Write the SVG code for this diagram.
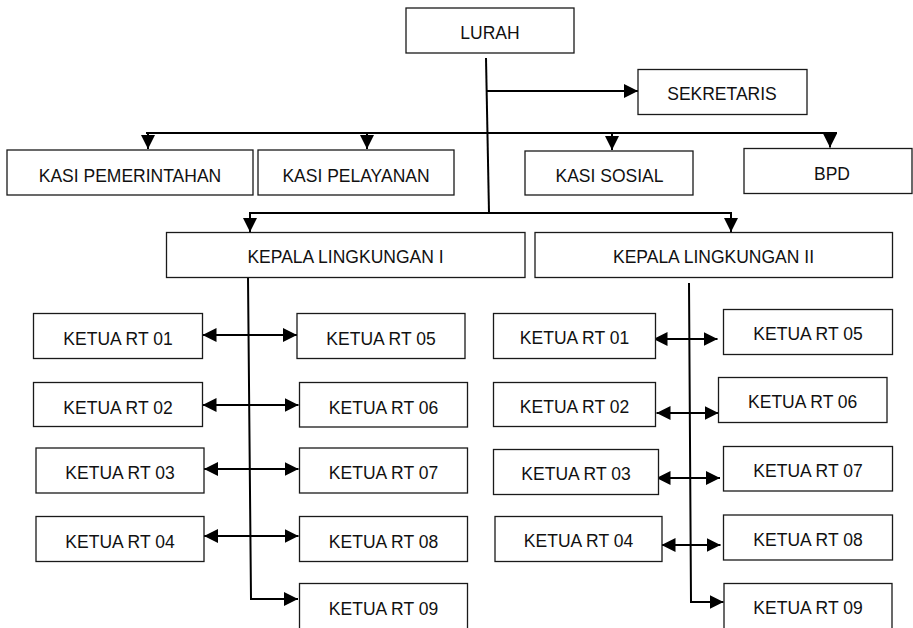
<svg xmlns="http://www.w3.org/2000/svg" width="913" height="628" viewBox="0 0 913 628">
<style>
.box{fill:#fff;stroke:#1a1a1a;stroke-width:1.3}
.lbl{font-family:"Liberation Sans",Arial,sans-serif;font-size:17.5px;fill:#111;text-anchor:middle}
.con{fill:none;stroke:#000;stroke-width:2}
</style>
<defs>
<marker id="ah" markerUnits="userSpaceOnUse" markerWidth="15" markerHeight="15" refX="14" refY="7" orient="auto-start-reverse" viewBox="0 0 15 15">
<path d="M0,0 L14,7 L0,14 Z" fill="#000"/>
</marker>
</defs>
<rect width="913" height="628" fill="#fff"/>

<g id="connectors">
<path class="con" d="M486,58 L489,213"/>
<path class="con" d="M487,91 L638,91" marker-end="url(#ah)"/>
<path class="con" d="M146,133 L837,133"/>
<path class="con" d="M148,133 L148,149" marker-end="url(#ah)"/>
<path class="con" d="M367,133 L367,149" marker-end="url(#ah)"/>
<path class="con" d="M612,133 L612,150" marker-end="url(#ah)"/>
<path class="con" d="M830,133 L830,147.5" marker-end="url(#ah)"/>
<path class="con" d="M250,232 L250,213 L731,213 L731,232" marker-start="url(#ah)" marker-end="url(#ah)"/>

<path class="con" d="M248,277 L251,599 L298,599" marker-end="url(#ah)"/>
<path class="con" d="M202.5,335 L297,335" marker-start="url(#ah)" marker-end="url(#ah)"/>
<path class="con" d="M202.5,405 L298.5,405" marker-start="url(#ah)" marker-end="url(#ah)"/>
<path class="con" d="M204,469 L298.5,469" marker-start="url(#ah)" marker-end="url(#ah)"/>
<path class="con" d="M204,536 L298.5,536" marker-start="url(#ah)" marker-end="url(#ah)"/>

<path class="con" d="M689,283 L691,602 L723.5,602" marker-end="url(#ah)"/>
<path class="con" d="M653.5,339 L717.5,339" marker-start="url(#ah)" marker-end="url(#ah)"/>
<path class="con" d="M656.5,413 L718.5,413" marker-start="url(#ah)" marker-end="url(#ah)"/>
<path class="con" d="M656.5,478 L720,478" marker-start="url(#ah)" marker-end="url(#ah)"/>
<path class="con" d="M661.5,545 L720.5,545" marker-start="url(#ah)" marker-end="url(#ah)"/>
</g>

<g id="lurah"><rect class="box" x="406" y="8" width="168" height="45"/><text class="lbl" x="490" y="38.5">LURAH</text></g>
<g id="sekretaris"><rect class="box" x="638" y="69.5" width="169" height="45"/><text class="lbl" x="722" y="100">SEKRETARIS</text></g>
<g id="kasi-pemerintahan"><rect class="box" x="7" y="150" width="246" height="45"/><text class="lbl" x="130" y="181.5">KASI PEMERINTAHAN</text></g>
<g id="kasi-pelayanan"><rect class="box" x="258" y="150" width="196" height="45"/><text class="lbl" x="356" y="181.5">KASI PELAYANAN</text></g>
<g id="kasi-sosial"><rect class="box" x="525" y="151" width="168" height="44"/><text class="lbl" x="609.5" y="181.5">KASI SOSIAL</text></g>
<g id="bpd"><rect class="box" x="744" y="148.5" width="168" height="45"/><text class="lbl" x="832" y="180">BPD</text></g>
<g id="kepala-1"><rect class="box" x="166.5" y="232.5" width="358.5" height="45"/><text class="lbl" x="345.5" y="262.5">KEPALA LINGKUNGAN I</text></g>
<g id="kepala-2"><rect class="box" x="535" y="232.5" width="357.5" height="45"/><text class="lbl" x="713.5" y="262.5">KEPALA LINGKUNGAN II</text></g>

<g id="l-rt01"><rect class="box" x="33.5" y="313.5" width="169" height="45"/><text class="lbl" x="118" y="345">KETUA RT 01</text></g>
<g id="l-rt02"><rect class="box" x="33.5" y="382.5" width="169" height="44"/><text class="lbl" x="118" y="413.5">KETUA RT 02</text></g>
<g id="l-rt03"><rect class="box" x="36" y="448" width="168" height="45"/><text class="lbl" x="120" y="479">KETUA RT 03</text></g>
<g id="l-rt04"><rect class="box" x="36" y="516.5" width="168" height="45"/><text class="lbl" x="120" y="547.5">KETUA RT 04</text></g>
<g id="l-rt05"><rect class="box" x="297" y="313.5" width="168" height="45"/><text class="lbl" x="381" y="345">KETUA RT 05</text></g>
<g id="l-rt06"><rect class="box" x="299.5" y="382.5" width="168" height="44.5"/><text class="lbl" x="383.5" y="413.5">KETUA RT 06</text></g>
<g id="l-rt07"><rect class="box" x="299.5" y="448" width="168" height="45"/><text class="lbl" x="383.5" y="479">KETUA RT 07</text></g>
<g id="l-rt08"><rect class="box" x="299.5" y="516.5" width="168" height="45"/><text class="lbl" x="383.5" y="547.5">KETUA RT 08</text></g>
<g id="l-rt09"><rect class="box" x="299.5" y="583.5" width="168" height="47"/><text class="lbl" x="383.5" y="615">KETUA RT 09</text></g>

<g id="r-rt01"><rect class="box" x="493.5" y="313.5" width="162" height="45"/><text class="lbl" x="574.5" y="343.5">KETUA RT 01</text></g>
<g id="r-rt02"><rect class="box" x="493.5" y="382.5" width="162" height="44"/><text class="lbl" x="574.5" y="412.5">KETUA RT 02</text></g>
<g id="r-rt03"><rect class="box" x="493.5" y="449.5" width="165" height="45"/><text class="lbl" x="576" y="480">KETUA RT 03</text></g>
<g id="r-rt04"><rect class="box" x="495" y="516.5" width="167" height="45"/><text class="lbl" x="578.5" y="547">KETUA RT 04</text></g>
<g id="r-rt05"><rect class="box" x="723.5" y="309.5" width="169" height="45"/><text class="lbl" x="808" y="340">KETUA RT 05</text></g>
<g id="r-rt06"><rect class="box" x="718.5" y="377.5" width="168.5" height="45"/><text class="lbl" x="802.7" y="408">KETUA RT 06</text></g>
<g id="r-rt07"><rect class="box" x="723.5" y="446.5" width="169" height="44.5"/><text class="lbl" x="808" y="477">KETUA RT 07</text></g>
<g id="r-rt08"><rect class="box" x="723.5" y="515" width="169" height="45"/><text class="lbl" x="808" y="545.5">KETUA RT 08</text></g>
<g id="r-rt09"><rect class="box" x="724" y="583.5" width="168" height="47"/><text class="lbl" x="808" y="614">KETUA RT 09</text></g>
</svg>
